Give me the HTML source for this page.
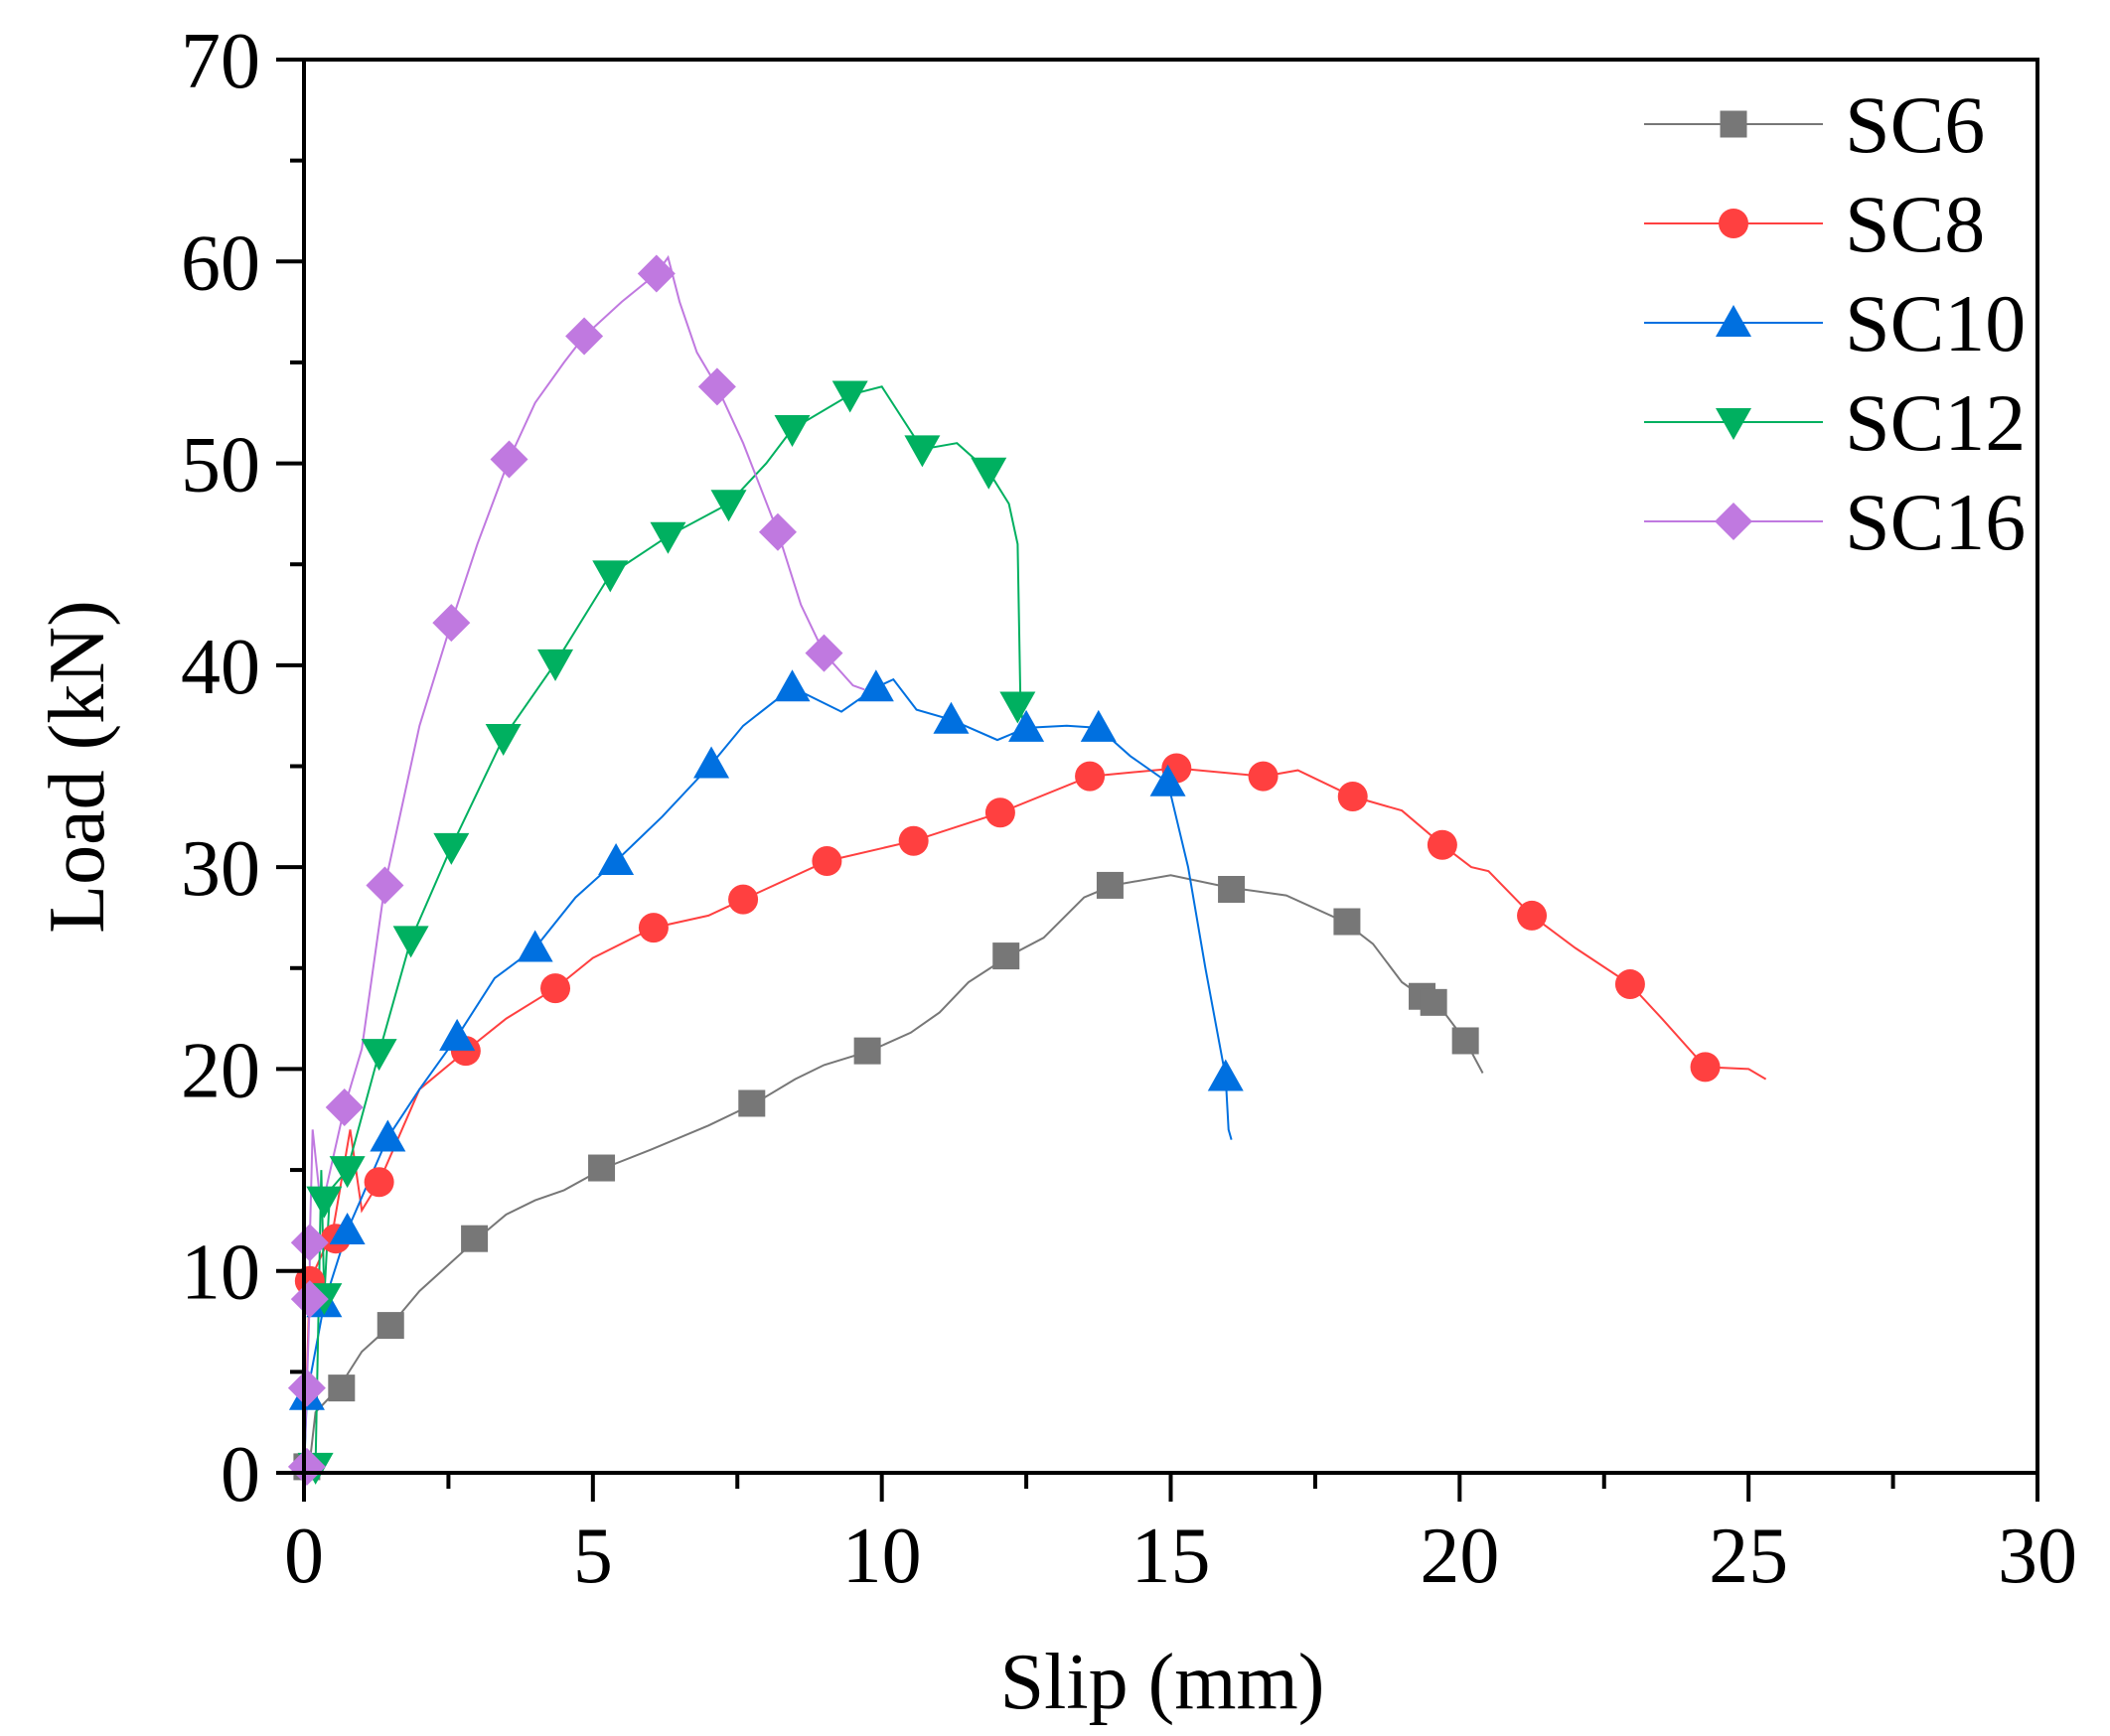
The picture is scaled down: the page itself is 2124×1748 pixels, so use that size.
<!DOCTYPE html>
<html><head><meta charset="utf-8"><style>
html,body{margin:0;padding:0;background:#fff;}
svg{display:block;font-family:"Liberation Serif","Times New Roman",Times,serif;}
svg text{font-family:"Liberation Serif","Times New Roman",Times,serif;fill:#000;}
</style></head><body>
<svg id="s" width="2124" height="1748" viewBox="0 0 2124 1748" xmlns="http://www.w3.org/2000/svg" font-family="Liberation Serif, Times New Roman, serif"></svg>
<script>
const X0=306,X1=2051,Y0=1483,Y1=60;
const px=x=>X0+(X1-X0)*x/30, py=y=>Y0-(Y0-Y1)*y/70;
const FF='font-family="Liberation Serif, Times New Roman, serif"';
let h='';
const S=[
{c:'#777777',m:'sq',
l:[[0,0],[0.1,0.5],[0.2,3],[0.6,4.2],[1,6],[1.5,7.3],[2,9],[2.5,10.3],[3,11.6],[3.5,12.8],[4,13.5],[4.5,14],[5.2,15.1],[6,16],[7,17.2],[7.8,18.3],[8.5,19.5],[9,20.2],[9.8,20.9],[10.5,21.8],[11,22.8],[11.5,24.3],[12.2,25.6],[12.8,26.5],[13.5,28.5],[14,29.1],[15,29.6],[16,29],[17,28.6],[18,27.3],[18.5,26.2],[19,24.3],[19.4,23.5],[19.6,23.3],[20.1,21.4],[20.4,19.8]],
k:[[0.05,0.3],[0.65,4.2],[1.5,7.3],[2.95,11.6],[5.15,15.1],[7.75,18.3],[9.75,20.9],[12.15,25.6],[13.95,29.1],[16.05,28.9],[18.05,27.3],[19.35,23.6],[19.55,23.3],[20.1,21.4]]},
{c:'#ff4040',m:'ci',
l:[[0,0],[0.1,9.5],[0.5,12],[0.8,17],[1,13],[1.3,14.4],[2,19],[2.8,20.9],[3.5,22.5],[4.35,24],[5,25.5],[6.05,27],[7,27.6],[7.6,28.4],[9.05,30.3],[10.55,31.3],[12.05,32.7],[13.6,34.5],[15.1,34.9],[16.6,34.5],[17.2,34.8],[18.15,33.5],[19,32.8],[19.7,31.1],[20.2,30],[20.5,29.8],[21.25,27.6],[22,26],[22.95,24.2],[23.5,22.5],[24.25,20.1],[25,20],[25.3,19.5]],
k:[[0.1,9.5],[0.55,11.6],[1.3,14.4],[2.8,20.9],[4.35,24],[6.05,27],[7.6,28.4],[9.05,30.3],[10.55,31.3],[12.05,32.7],[13.6,34.5],[15.1,34.9],[16.6,34.5],[18.15,33.5],[19.7,31.1],[21.25,27.6],[22.95,24.2],[24.25,20.1]]},
{c:'#0070e0',m:'tu',
l:[[0,0],[0.05,3.8],[0.35,8.4],[0.75,12],[1.45,16.6],[2,19],[2.65,21.6],[3.3,24.5],[4,26],[4.7,28.5],[5.4,30.3],[6.2,32.5],[7.05,35.1],[7.6,37],[8.45,38.9],[9.3,37.7],[9.9,38.9],[10.2,39.3],[10.6,37.8],[11.2,37.3],[12,36.3],[12.5,36.9],[13.2,37],[13.75,36.9],[14.3,35.5],[14.95,34.2],[15.3,30],[15.6,25],[15.95,19.6],[16,17],[16.05,16.5]],
k:[[0.05,3.8],[0.35,8.4],[0.75,12],[1.45,16.6],[2.65,21.6],[4,26],[5.4,30.3],[7.05,35.1],[8.45,38.9],[9.9,38.9],[11.2,37.3],[12.5,36.9],[13.75,36.9],[14.95,34.2],[15.95,19.6]]},
{c:'#00b060',m:'td',
l:[[0,0],[0.2,0.3],[0.3,15],[0.35,8.7],[0.45,14],[0.75,15],[1.3,20.8],[1.85,26.4],[2.55,31],[3.45,36.4],[4.35,40.1],[5.3,44.5],[6.3,46.4],[7.35,48],[8,50],[8.45,51.7],[9.45,53.4],[10,53.8],[10.7,50.7],[11.3,51],[11.85,49.6],[12.2,48],[12.35,46],[12.4,38],[12.45,37]],
k:[[0.2,0.3],[0.35,8.7],[0.35,13.5],[0.75,15],[1.3,20.8],[1.85,26.4],[2.55,31],[3.45,36.4],[4.35,40.1],[5.3,44.5],[6.3,46.4],[7.35,48],[8.45,51.7],[9.45,53.4],[10.7,50.7],[11.85,49.6],[12.35,38]]},
{c:'#c079e0',m:'di',
l:[[0,0],[0.05,4.2],[0.1,8.6],[0.1,11.4],[0.15,17],[0.3,13],[0.7,18.1],[1,21],[1.4,29.1],[2,37],[2.55,42.1],[3,46],[3.55,50.2],[4,53],[4.5,55],[4.85,56.3],[5.5,58],[6.1,59.4],[6.3,60.2],[6.5,58],[6.8,55.5],[7.15,53.8],[7.6,51],[8.2,46.6],[8.6,43],[9,40.6],[9.5,39],[9.7,38.8]],
k:[[0.05,0.3],[0.05,4.2],[0.1,8.6],[0.1,11.4],[0.7,18.1],[1.4,29.1],[2.55,42.1],[3.55,50.2],[4.85,56.3],[6.1,59.4],[7.15,53.8],[8.2,46.6],[9,40.6]]}
];
function mk(m,x,y,c){
 if(m=='sq')return `<rect x="${x-13.5}" y="${y-13.5}" width="27" height="27" fill="${c}"/>`;
 if(m=='ci')return `<circle cx="${x}" cy="${y}" r="15" fill="${c}"/>`;
 if(m=='tu')return `<polygon points="${x},${y-18} ${x+18},${y+14} ${x-18},${y+14}" fill="${c}"/>`;
 if(m=='td')return `<polygon points="${x-18},${y-14} ${x+18},${y-14} ${x},${y+18}" fill="${c}"/>`;
 return `<polygon points="${x},${y-19} ${x+19},${y} ${x},${y+19} ${x-19},${y}" fill="${c}"/>`;
}
S.forEach(s=>{
 h+=`<polyline fill="none" stroke="${s.c}" stroke-width="2" points="${s.l.map(p=>px(p[0]).toFixed(1)+','+py(p[1]).toFixed(1)).join(' ')}"/>`;
});
S.forEach(s=>{s.k.forEach(p=>h+=mk(s.m,px(p[0]),py(p[1]),s.c));});
h+=`<rect x="${X0}" y="${Y1}" width="${X1-X0}" height="${Y0-Y1}" fill="none" stroke="#000" stroke-width="4"/>`;
for(let i=0;i<=12;i++){const x=px(i*2.5),maj=i%2==0;h+=`<line x1="${x}" y1="${Y0}" x2="${x}" y2="${Y0+(maj?29:16)}" stroke="#000" stroke-width="4"/>`;
 if(maj)h+=`<text ${FF} x="${x}" y="1593" font-size="80" text-anchor="middle">${i*2.5}</text>`;}
for(let i=0;i<=14;i++){const y=py(i*5),maj=i%2==0;h+=`<line x1="${X0}" y1="${y}" x2="${X0-(maj?28:14)}" y2="${y}" stroke="#000" stroke-width="4"/>`;
 if(maj)h+=`<text ${FF} x="262" y="${y+28}" font-size="80" text-anchor="end">${i*5}</text>`;}
h+=`<text ${FF} x="1170" y="1720" font-size="80" text-anchor="middle">Slip (mm)</text>`;
h+=`<text ${FF} transform="translate(104,772) rotate(-90)" font-size="80" text-anchor="middle">Load (kN)</text>`;
const names=['SC6','SC8','SC10','SC12','SC16'];
S.forEach((s,i)=>{const y=125+i*100;
 h+=`<line x1="1655" y1="${y}" x2="1835" y2="${y}" stroke="${s.c}" stroke-width="2"/>`+mk(s.m,1745,y,s.c)+
 `<text ${FF} x="1857" y="${y+28}" font-size="82">${names[i]}</text>`;});
document.getElementById('s').innerHTML=h;
</script>
</body></html>
